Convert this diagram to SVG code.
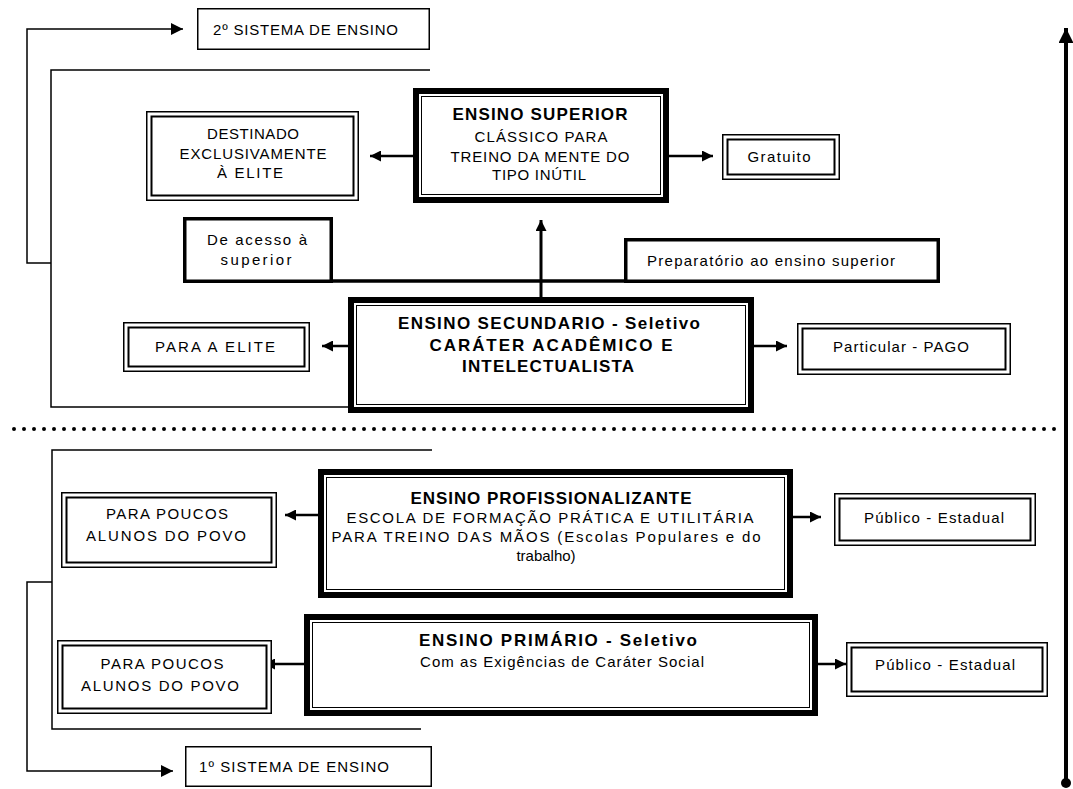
<svg xmlns="http://www.w3.org/2000/svg" width="1073" height="789" viewBox="0 0 1073 789">
<style>
.t{font-family:"Liberation Sans",Arial,sans-serif;font-size:15px;fill:#000}
.b{font-family:"Liberation Sans",Arial,sans-serif;font-size:17px;font-weight:bold;fill:#000}
.m{text-anchor:middle}
.o{fill:#fff;stroke:#000}
.ln{fill:none;stroke:#000}
</style>
<defs>
<marker id="ah" viewBox="0 0 10 10" refX="10" refY="5" markerWidth="11" markerHeight="11" markerUnits="userSpaceOnUse" orient="auto"><path d="M0,0 L10,5 L0,10 z" fill="#000"/></marker>
<marker id="ahs" viewBox="0 0 10 10" refX="10" refY="5" markerWidth="12" markerHeight="12" markerUnits="userSpaceOnUse" orient="auto"><path d="M0,0 L10,5 L0,10 z" fill="#000"/></marker>
<marker id="ahb" viewBox="0 0 10 10" refX="10" refY="5" markerWidth="15" markerHeight="15" markerUnits="userSpaceOnUse" orient="auto"><path d="M0,0 L10,5 L0,10 z" fill="#000"/></marker>
</defs>

<g id="connectors">
  <path class="ln" stroke-width="1.5" d="M51,263 H27 V29 H183" marker-end="url(#ahs)"/>
  <path class="ln" stroke-width="1.5" d="M52,582 H27 V771 H173" marker-end="url(#ahs)"/>
  <path class="ln" stroke-width="1.5" d="M430,70 H51 V407 H350"/>
  <path class="ln" stroke-width="1.5" d="M432,450 H52 V729 H421"/>
  <line x1="14" y1="429" x2="1058" y2="429" stroke="#000" stroke-width="4" stroke-linecap="round" stroke-dasharray="0 10"/>
  <line x1="1066" y1="783" x2="1066" y2="28" stroke="#000" stroke-width="4" marker-end="url(#ahb)"/>
  <circle cx="1066" cy="783" r="5" fill="#000"/>
  <line x1="331" y1="281" x2="626" y2="281" stroke="#000" stroke-width="3.5"/>
  <line x1="413" y1="156" x2="370" y2="156" stroke="#000" stroke-width="2.5" marker-end="url(#ah)"/>
  <line x1="669" y1="156" x2="713" y2="156" stroke="#000" stroke-width="2.5" marker-end="url(#ah)"/>
  <line x1="541" y1="297" x2="541" y2="220" stroke="#000" stroke-width="3" marker-end="url(#ah)"/>
  <line x1="348" y1="346" x2="322" y2="346" stroke="#000" stroke-width="2.5" marker-end="url(#ah)"/>
  <line x1="754" y1="346" x2="787" y2="346" stroke="#000" stroke-width="2.5" marker-end="url(#ah)"/>
  <line x1="318" y1="515" x2="285" y2="515" stroke="#000" stroke-width="2.5" marker-end="url(#ah)"/>
  <line x1="793" y1="517" x2="821" y2="517" stroke="#000" stroke-width="2.5" marker-end="url(#ah)"/>
  <line x1="304" y1="664" x2="264" y2="664" stroke="#000" stroke-width="2.5" marker-end="url(#ah)"/>
  <line x1="818" y1="664" x2="846" y2="664" stroke="#000" stroke-width="2.5" marker-end="url(#ah)"/>
</g>

<g id="sistema2">
  <rect class="o" x="197.75" y="8.75" width="231.5" height="40.5" stroke-width="1.5"/>
  <text class="t" x="213" y="34.5" textLength="185" lengthAdjust="spacing">2º SISTEMA DE ENSINO</text>
</g>

<g id="sistema1">
  <rect class="o" x="185.75" y="746.75" width="245.5" height="39.5" stroke-width="1.5"/>
  <text class="t" x="199" y="771.5" textLength="190" lengthAdjust="spacing">1º SISTEMA DE ENSINO</text>
</g>

<g id="destinado">
  <rect class="o" x="146.75" y="111.75" width="211.5" height="88.5" stroke-width="1.5"/>
  <rect class="ln" x="151.5" y="116.5" width="202" height="79" stroke-width="2"/>
  <text class="t m" x="253" y="138.5" textLength="92" lengthAdjust="spacing">DESTINADO</text>
  <text class="t m" x="253" y="158.5" textLength="147" lengthAdjust="spacing">EXCLUSIVAMENTE</text>
  <text class="t m" x="250" y="177.5" textLength="66" lengthAdjust="spacing">À  ELITE</text>
</g>

<g id="superior">
  <rect class="o" x="416" y="91" width="250" height="109" stroke-width="6"/>
  <rect class="ln" x="421.5" y="96.5" width="239" height="98" stroke-width="1"/>
  <text class="b m" x="540" y="120" textLength="175" lengthAdjust="spacing">ENSINO SUPERIOR</text>
  <text class="t m" x="541" y="141.5" textLength="133" lengthAdjust="spacing">CLÁSSICO PARA</text>
  <text class="t m" x="540" y="161.5" textLength="179" lengthAdjust="spacing">TREINO DA MENTE DO</text>
  <text class="t m" x="539" y="179.5" textLength="94" lengthAdjust="spacing">TIPO INÚTIL</text>
</g>

<g id="gratuito">
  <rect class="o" x="722.75" y="134.75" width="116.5" height="44.5" stroke-width="1.5"/>
  <rect class="ln" x="727.5" y="139.5" width="107" height="35" stroke-width="2"/>
  <text class="t m" x="779" y="161.5" textLength="63" lengthAdjust="spacing">Gratuito</text>
</g>

<g id="acesso">
  <rect class="o" x="184.75" y="218.75" width="146.5" height="62.5" stroke-width="3.5"/>
  <text class="t m" x="257" y="244.5" textLength="100" lengthAdjust="spacing">De acesso à</text>
  <text class="t m" x="256" y="264.5" textLength="71" lengthAdjust="spacing">superior</text>
</g>

<g id="preparatorio">
  <rect class="o" x="625.75" y="239.75" width="312.5" height="41.5" stroke-width="3.5"/>
  <text class="t" x="647" y="265.5" textLength="248" lengthAdjust="spacing">Preparatório ao ensino superior</text>
</g>

<g id="secundario">
  <rect class="o" x="351" y="300" width="400" height="110" stroke-width="6"/>
  <rect class="ln" x="356.5" y="305.5" width="389" height="99" stroke-width="1"/>
  <text class="b m" x="549" y="328.5" textLength="302" lengthAdjust="spacing">ENSINO SECUNDARIO  -  Seletivo</text>
  <text class="b m" x="551" y="350.5" textLength="243" lengthAdjust="spacing">CARÁTER  ACADÊMICO  E</text>
  <text class="b m" x="548" y="371.5" textLength="172" lengthAdjust="spacing">INTELECTUALISTA</text>
</g>

<g id="elite">
  <rect class="o" x="123.75" y="322.75" width="185.5" height="48.5" stroke-width="1.5"/>
  <rect class="ln" x="128.5" y="327.5" width="176" height="39" stroke-width="2"/>
  <text class="t m" x="215" y="351.5" textLength="120" lengthAdjust="spacing">PARA  A  ELITE</text>
</g>

<g id="particular">
  <rect class="o" x="797.75" y="323.75" width="212.5" height="50.5" stroke-width="1.5"/>
  <rect class="ln" x="802.5" y="328.5" width="203" height="41" stroke-width="2"/>
  <text class="t m" x="901" y="351.5" textLength="136" lengthAdjust="spacing">Particular - PAGO</text>
</g>

<g id="profissionalizante">
  <rect class="o" x="321" y="472" width="469" height="123" stroke-width="6"/>
  <rect class="ln" x="326.5" y="477.5" width="458" height="112" stroke-width="1"/>
  <text class="b m" x="551" y="504" textLength="281" lengthAdjust="spacing">ENSINO PROFISSIONALIZANTE</text>
  <text class="t m" x="550" y="522.5" textLength="407" lengthAdjust="spacing">ESCOLA  DE FORMAÇÃO PRÁTICA  E  UTILITÁRIA</text>
  <text class="t m" x="546" y="541.5" textLength="429" lengthAdjust="spacing">PARA TREINO DAS MÃOS (Escolas  Populares  e  do</text>
  <text class="t m" x="546" y="560.5">trabalho)</text>
</g>

<g id="poucos1">
  <rect class="o" x="61.75" y="492.75" width="214.5" height="74.5" stroke-width="1.5"/>
  <rect class="ln" x="66.5" y="497.5" width="205" height="65" stroke-width="2"/>
  <text class="t m" x="167" y="518.5" textLength="122" lengthAdjust="spacing">PARA  POUCOS</text>
  <text class="t m" x="166" y="540.5" textLength="160" lengthAdjust="spacing">ALUNOS  DO  POVO</text>
</g>

<g id="publico1">
  <rect class="o" x="834.75" y="493.75" width="200.5" height="51.5" stroke-width="1.5"/>
  <rect class="ln" x="839.5" y="498.5" width="191" height="42" stroke-width="2"/>
  <text class="t m" x="934" y="522.5" textLength="140" lengthAdjust="spacing">Público - Estadual</text>
</g>

<g id="primario">
  <rect class="o" x="307" y="617" width="508" height="96" stroke-width="6"/>
  <rect class="ln" x="312.5" y="622.5" width="497" height="85" stroke-width="1"/>
  <text class="b m" x="558" y="646" textLength="278" lengthAdjust="spacing">ENSINO PRIMÁRIO  -  Seletivo</text>
  <text class="t m" x="562" y="666.5" textLength="284" lengthAdjust="spacing">Com as Exigências de Caráter Social</text>
</g>

<g id="poucos2">
  <rect class="o" x="57.75" y="640.75" width="213.5" height="72.5" stroke-width="1.5"/>
  <rect class="ln" x="62.5" y="645.5" width="204" height="63" stroke-width="2"/>
  <text class="t m" x="162" y="668.5" textLength="123" lengthAdjust="spacing">PARA  POUCOS</text>
  <text class="t m" x="160" y="690.5" textLength="158" lengthAdjust="spacing">ALUNOS  DO  POVO</text>
</g>

<g id="publico2">
  <rect class="o" x="846.75" y="642.75" width="200.5" height="53.5" stroke-width="1.5"/>
  <rect class="ln" x="851.5" y="647.5" width="191" height="44" stroke-width="2"/>
  <text class="t m" x="945" y="669.5" textLength="140" lengthAdjust="spacing">Público - Estadual</text>
</g>
</svg>
